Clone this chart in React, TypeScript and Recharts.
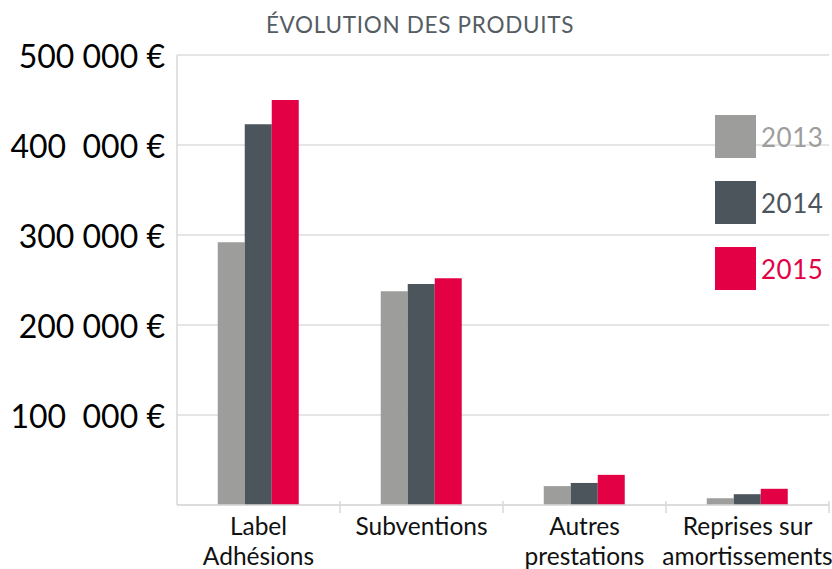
import { BarChart, Bar, XAxis, YAxis, CartesianGrid } from "recharts";

const categories = [
  ["Label", "Adhésions"],
  ["Subventions"],
  ["Autres", "prestations"],
  ["Reprises sur", "amortissements"],
];
const serie2013 = [292000, 237500, 21000, 7500];
const serie2014 = [423000, 245500, 24500, 12000];
const serie2015 = [450000, 252000, 33500, 18000];
const yTicks = [0, 100000, 200000, 300000, 400000, 500000];
const yTickLabels = ["", "100  000 €", "200 000 €", "300 000 €", "400  000 €", "500 000 €"];

const series = [
  { key: "y2013", label: "2013", color: "#9d9d9c", values: serie2013 },
  { key: "y2014", label: "2014", color: "#4d555c", values: serie2014 },
  { key: "y2015", label: "2015", color: "#e30045", values: serie2015 },
];

const data = categories.map((c, i) => {
  const row: Record<string, string | number> = { name: c.join("\n") };
  series.forEach((s) => (row[s.key] = s.values[i]));
  return row;
});

const FONT = "Lato, 'Open Sans', sans-serif";
const W = 832;
const H = 569;
const LEFT = 177;
const RIGHT = 3;
const BAND = (W - LEFT - RIGHT) / categories.length;

function XTick({ x, y, payload }: { x?: number; y?: number; payload?: { value: string } }) {
  const lines = String(payload?.value ?? "").split("\n");
  const cx = x ?? 0;
  const cy = y ?? 0;
  return (
    <g>
      {/* petite graduation à la frontière droite de chaque catégorie */}
      <line x1={cx + BAND / 2} x2={cx + BAND / 2} y1={cy - 12} y2={cy} stroke="#d9d9d9" strokeWidth={1.5} />
      <text x={cx} y={cy + 22} textAnchor="middle" fontFamily={FONT} fontSize={24.5} fill="#111">
        {lines.map((l, i) => (
          <tspan key={i} x={cx} dy={i === 0 ? 0 : 30}>
            {l}
          </tspan>
        ))}
      </text>
    </g>
  );
}

function YTick({ x, y, payload }: { x?: number; y?: number; payload?: { value: number } }) {
  const idx = yTicks.indexOf(payload?.value ?? -1);
  return (
    <text
      x={(x ?? 0) - 4}
      y={y}
      textAnchor="end"
      dominantBaseline="central"
      fontFamily={FONT}
      fontSize={32}
      fill="#000"
      style={{ whiteSpace: "pre" }}
    >
      {yTickLabels[idx] ?? ""}
    </text>
  );
}

function LegendBox() {
  return (
    <div style={{ position: "absolute", top: 115, left: 715, display: "grid", gap: 23 }}>
      {series.map((s) => (
        <div key={s.key} style={{ display: "flex", alignItems: "center", gap: 5, height: 43 }}>
          <i style={{ width: 41, height: 43, background: s.color, display: "inline-block" }} />
          <span style={{ fontFamily: FONT, fontSize: 26, color: s.color, letterSpacing: 0.5 }}>{s.label}</span>
        </div>
      ))}
    </div>
  );
}

export default function App() {
  return (
    <div style={{ position: "absolute", left: 0, top: 0, width: W, height: H, background: "#fff", overflow: "hidden" }}>
      <BarChart
        width={W}
        height={H}
        data={data}
        margin={{ top: 55, right: RIGHT, left: 0, bottom: 0 }}
        barCategoryGap="25%"
        barGap={0}
      >
        <CartesianGrid vertical={false} stroke="#dcdcdc" strokeWidth={1.5} />
        <XAxis
          dataKey="name"
          interval={0}
          tickLine={false}
          axisLine={{ stroke: "#d9d9d9", strokeWidth: 1.5 }}
          tick={<XTick />}
          height={64}
        />
        <YAxis
          domain={[0, 500000]}
          ticks={yTicks}
          width={LEFT}
          tickLine={false}
          axisLine={{ stroke: "#d9d9d9", strokeWidth: 1.5 }}
          tick={<YTick />}
          interval={0}
        />
        {series.map((s) => (
          <Bar key={s.key} dataKey={s.key} name={s.label} fill={s.color} isAnimationActive={false} />
        ))}
      </BarChart>
      <div
        style={{
          position: "absolute",
          top: 11,
          left: 0,
          width: 840,
          textAlign: "center",
          fontFamily: FONT,
          fontSize: 22.5,
          color: "#555d63",
          letterSpacing: 0.7,
        }}
      >
        ÉVOLUTION DES PRODUITS
      </div>
      <LegendBox />
    </div>
  );
}
